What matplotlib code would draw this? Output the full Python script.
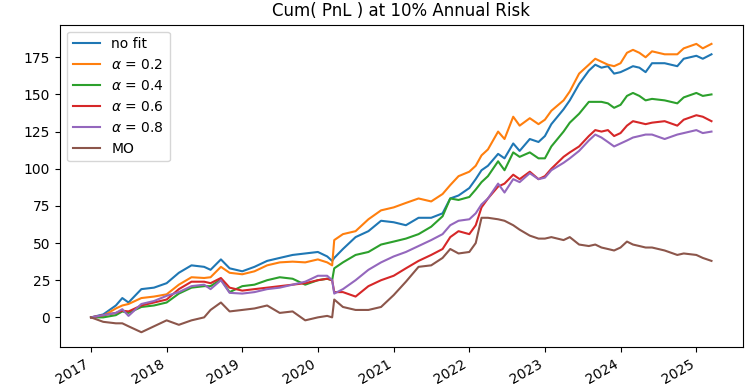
import matplotlib
matplotlib.use("Agg")
import matplotlib.pyplot as plt
import matplotlib.dates as mdates
import pandas as pd

dates = [
    "2017-01-01", "2017-03-01", "2017-05-01", "2017-06-01", "2017-07-01", "2017-09-01",
    "2017-11-01", "2018-01-01", "2018-03-01", "2018-05-01", "2018-07-01", "2018-08-01",
    "2018-09-20", "2018-11-01", "2019-01-01", "2019-03-01", "2019-05-01", "2019-07-01",
    "2019-09-01", "2019-11-01", "2020-01-01", "2020-02-15", "2020-03-10", "2020-03-20",
    "2020-05-01", "2020-07-01", "2020-09-01", "2020-11-01", "2021-01-01", "2021-03-01",
    "2021-05-01", "2021-07-01", "2021-08-25", "2021-10-01", "2021-11-10", "2022-01-01",
    "2022-02-01", "2022-03-01", "2022-04-01", "2022-05-20", "2022-06-20", "2022-08-01",
    "2022-09-01", "2022-10-20", "2022-12-01", "2023-01-01", "2023-02-01", "2023-04-01",
    "2023-05-01", "2023-06-15", "2023-08-01", "2023-09-01", "2023-10-01", "2023-11-01",
    "2023-12-01", "2024-01-01", "2024-02-01", "2024-03-01", "2024-04-01", "2024-05-01",
    "2024-06-01", "2024-08-01", "2024-10-01", "2024-11-01", "2025-01-01", "2025-02-01",
    "2025-03-15",
]

no_fit = [0, 2, 8, 13, 10, 19, 20, 23, 30, 35, 34, 32,
          39, 33, 31, 34, 38, 40, 42, 43, 44, 41, 38, 40,
          46, 54, 58, 65, 64, 62, 67, 67, 70, 80, 82, 87,
          93, 99, 102, 110, 107, 117, 112, 120, 118, 122, 130, 140,
          146, 157, 166, 170, 168, 169, 164, 165, 167, 169, 168, 165,
          171, 171, 169, 174, 176, 174, 177]

alpha_02 = [0, 1, 6, 8, 9, 13, 14, 15.5, 22, 27, 26.5, 27,
            34, 30, 29, 31, 35, 37, 37.5, 37, 39, 37, 35, 52,
            56, 58, 66, 72, 74, 77, 80, 78, 83, 89, 95, 98,
            102, 109, 113, 125, 120, 135, 129, 134, 130, 133, 139, 146,
            152, 164, 170, 174, 172, 170, 169, 171, 178, 180, 178, 175,
            179, 177, 177, 181, 184, 181, 184]

alpha_04 = [0, 0, 1.5, 4, 3, 7, 8, 10, 16, 20, 21, 21,
            25.5, 17, 21, 22, 25, 27, 26, 22, 25, 26, 25, 33,
            37, 42, 44, 49, 51, 53, 56, 61, 68, 80, 79, 81,
            86, 91, 95, 105, 99, 111, 108, 111, 107, 107, 115, 125,
            131, 137, 145, 145, 145, 144, 141, 143, 149, 151, 149, 146,
            147, 146, 144, 148, 151, 149, 150]

alpha_06 = [0, 1.5, 3, 4.5, 4, 8, 10, 12, 19, 24, 24, 23,
            26.5, 20, 18, 19, 20, 21, 22, 23, 25, 26, 25, 17,
            17, 14, 21, 25, 28, 33, 38, 42, 46, 54, 58, 56,
            62, 74, 80, 88, 90, 96, 93, 98, 93, 95, 100, 108,
            111, 115, 122, 126, 125, 126, 122, 124, 129, 132, 131, 130,
            131, 132, 129, 133, 136, 135, 132]

alpha_08 = [0, 1.5, 3, 5.5, 1, 9, 11, 14.5, 17, 21, 22, 19,
            25, 16.5, 16, 17, 19, 20, 22, 24, 28, 28, 25, 16,
            19, 25, 32, 37, 41, 44, 48, 52, 56, 62, 65, 66,
            70, 76, 80, 90, 84, 93, 91, 97, 93, 94, 99, 104,
            107, 112, 119, 123, 121, 118, 115, 117, 119, 121, 122, 123,
            123, 120, 123, 124, 126, 124, 125]

mo = [0, -3, -4, -4, -6, -10, -6, -2, -5, -2, 0, 5,
      10, 4, 5, 6, 8, 3, 4, -2, 0, 1, 0, 12,
      7, 5, 5, 7, 15, 24, 34, 35, 40, 46, 43, 44,
      50, 67, 67, 66, 65, 62, 59, 55, 53, 53, 54, 52,
      54, 49, 48, 49, 47, 46, 45, 47, 51, 49, 48, 47,
      47, 45, 42, 43, 42, 40, 38]

series_labels = ["no fit", r"$\alpha$ = 0.2", r"$\alpha$ = 0.4",
                 r"$\alpha$ = 0.6", r"$\alpha$ = 0.8", "MO"]
series_values = [no_fit, alpha_02, alpha_04, alpha_06, alpha_08, mo]

x = pd.to_datetime(dates)

fig, ax = plt.subplots(figsize=(7.5, 3.9), dpi=100)
for vals, lab in zip(series_values, series_labels):
    ax.plot(x, vals, label=lab, linewidth=1.5)

ax.set_title("Cum( PnL ) at 10% Annual Risk")
ax.legend(loc="upper left")
ax.xaxis.set_major_locator(mdates.YearLocator())
ax.xaxis.set_major_formatter(mdates.DateFormatter("%Y"))
ax.set_ylim(-20, 197)
fig.autofmt_xdate()
fig.subplots_adjust(left=0.08, right=0.99, top=0.937, bottom=0.11)
fig.savefig("out.png", dpi=100)
